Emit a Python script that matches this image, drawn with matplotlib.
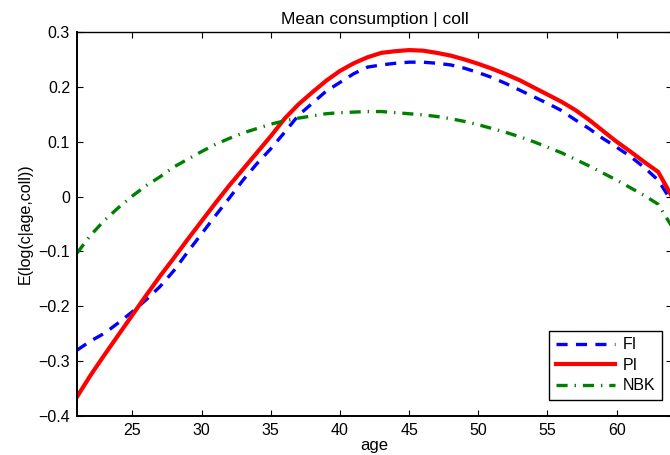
import matplotlib
matplotlib.use('Agg')
import matplotlib.pyplot as plt
from matplotlib.ticker import FuncFormatter, MultipleLocator

plt.rcParams['font.family'] = ['Liberation Sans', 'DejaVu Sans']
plt.rcParams['lines.scale_dashes'] = False

# -------- data --------
age = list(range(21, 65))
fi = [-0.280, -0.263, -0.249, -0.230, -0.210, -0.188, -0.164, -0.135, -0.101, -0.068,
      -0.035, -0.003, 0.030, 0.060, 0.087, 0.117, 0.148, 0.170, 0.192, 0.208,
      0.224, 0.236, 0.240, 0.243, 0.245, 0.245, 0.243, 0.240, 0.234, 0.226,
      0.217, 0.206, 0.194, 0.182, 0.170, 0.157, 0.140, 0.124, 0.106, 0.090,
      0.073, 0.053, 0.030, -0.010]
pi = [-0.365, -0.325, -0.288, -0.252, -0.216, -0.180, -0.145, -0.112, -0.078, -0.045,
      -0.012, 0.020, 0.050, 0.080, 0.110, 0.142, 0.168, 0.190, 0.211, 0.229,
      0.243, 0.254, 0.262, 0.265, 0.267, 0.266, 0.262, 0.257, 0.250, 0.242,
      0.233, 0.223, 0.212, 0.199, 0.186, 0.173, 0.158, 0.140, 0.120, 0.100,
      0.082, 0.063, 0.045, 0.000]
nbk = [-0.103, -0.070, -0.043, -0.020, 0.001, 0.020, 0.036, 0.054, 0.068, 0.082,
       0.095, 0.106, 0.116, 0.124, 0.132, 0.138, 0.143, 0.147, 0.151, 0.153,
       0.154, 0.155, 0.155, 0.153, 0.151, 0.149, 0.146, 0.142, 0.137, 0.131,
       0.124, 0.117, 0.109, 0.100, 0.090, 0.080, 0.068, 0.056, 0.043, 0.030,
       0.016, 0.002, -0.014, -0.055]
xticks = [25, 30, 35, 40, 45, 50, 55, 60]

# -------- plot --------
fig = plt.figure(figsize=(6.7, 4.55), dpi=100)
ax = fig.add_axes([77/670, 39/455, 595/670, 384/455])

ax.plot(age, fi, color='#0000ff', lw=2.4, dashes=(8, 6), label='FI')
ax.plot(age, pi, color='#ff0000', lw=3.0, label='PI')
ax.plot(age, nbk, color='#008000', lw=2.4, dashes=(8, 5, 1, 5), label='NBK')

ax.set_xlim(21, 64)
ax.set_ylim(-0.4, 0.3)
ax.set_xticks(xticks)
ax.yaxis.set_major_locator(MultipleLocator(0.1))
ax.yaxis.set_major_formatter(FuncFormatter(lambda v, p: ('%g' % round(v, 2)).replace('-', '\u2212')))
ax.tick_params(direction='in', length=4, width=0.8, top=True, right=True,
               labelsize=11.5, pad=5)

for s in ax.spines.values():
    s.set_linewidth(1.0)
ax.spines['left'].set_linewidth(1.4)
ax.spines['bottom'].set_linewidth(1.4)

ax.set_title('Mean consumption | coll', fontsize=12.5, pad=6)
ax.set_xlabel('age', fontsize=12, labelpad=0)
ax.set_ylabel('E(log(c|age,coll))', fontsize=11.5, labelpad=4)

leg = ax.legend(loc='lower right', bbox_to_anchor=(0.983, 0.042), borderaxespad=0,
                fancybox=False, framealpha=1, edgecolor='black', fontsize=11.5,
                handlelength=3.7, handletextpad=0.5, labelspacing=0.35)
leg.get_frame().set_linewidth(1.0)

fig.savefig('out.png', dpi=100)
